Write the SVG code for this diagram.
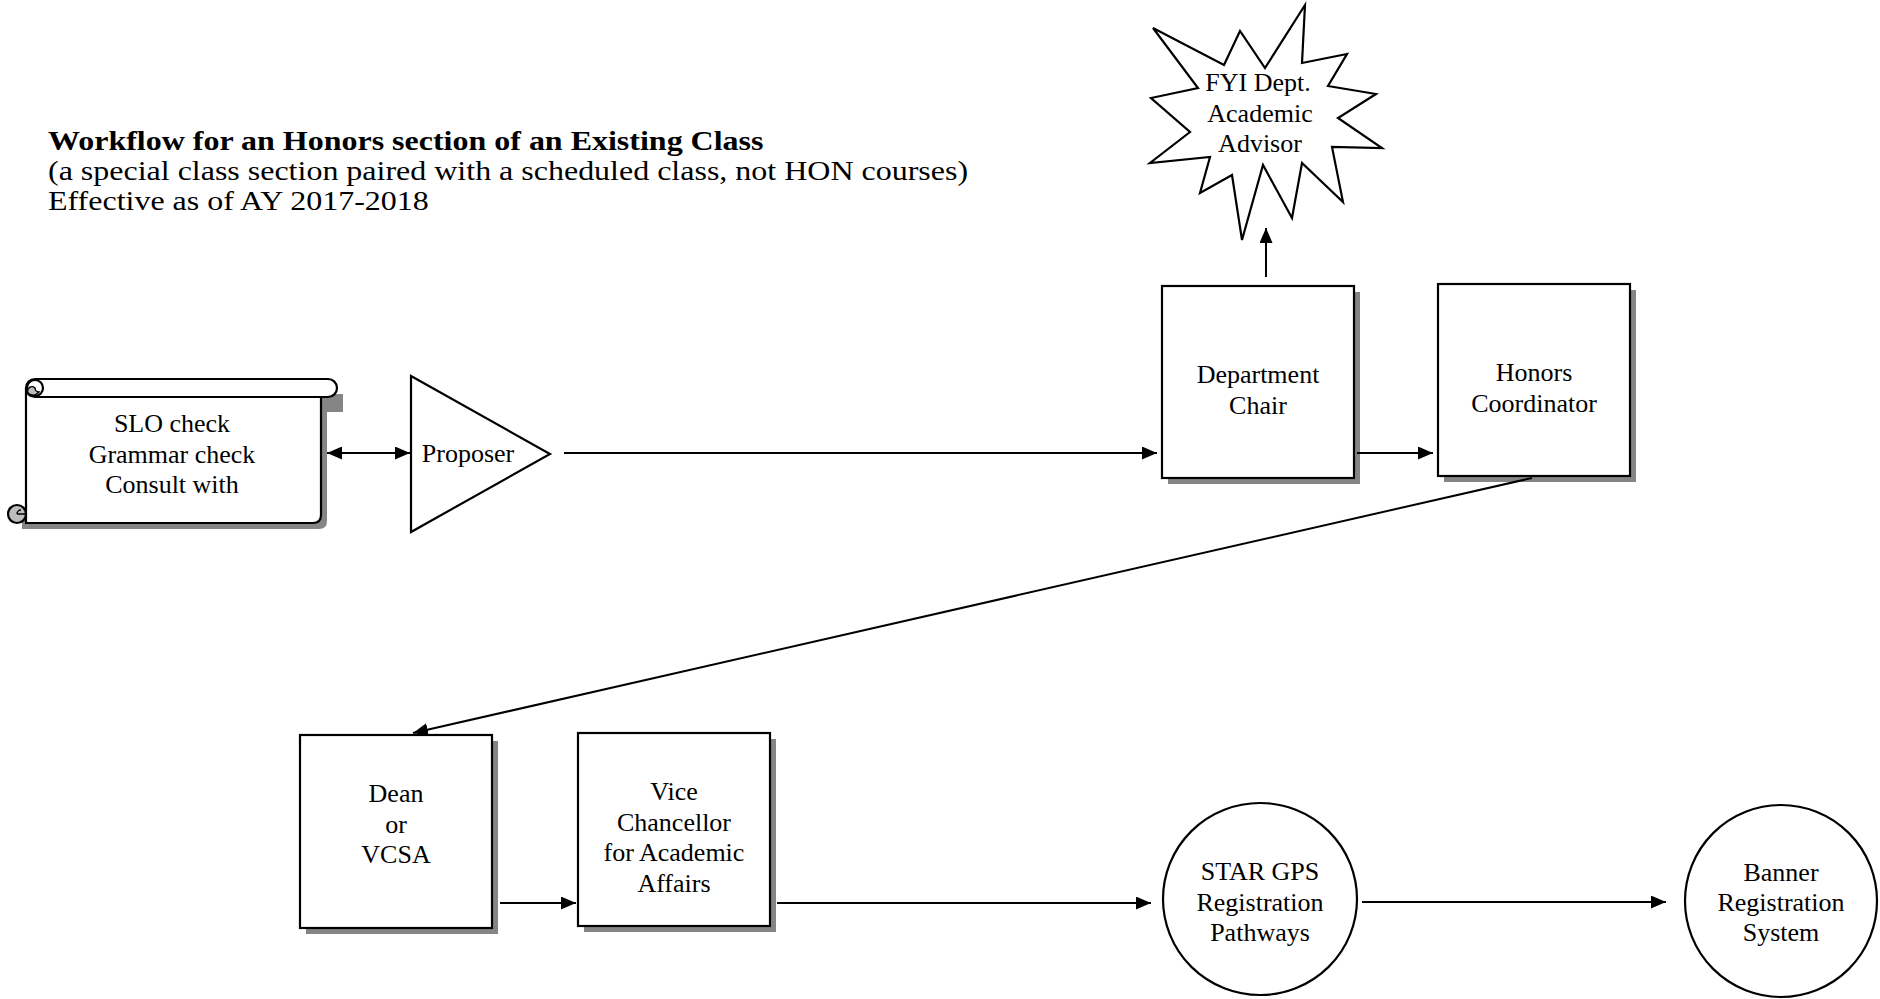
<svg xmlns="http://www.w3.org/2000/svg" width="1880" height="999" viewBox="0 0 1880 999">
  <style>
    .lbl { font-family: "Liberation Serif", "Times New Roman", serif; font-size: 26px; fill: #000; text-anchor: middle; }
    .hdr { font-family: "Liberation Serif", "Times New Roman", serif; font-size: 28px; fill: #000; }
    .shape { fill: #fff; stroke: #000; stroke-width: 2.2; }
    .shadow { fill: #858585; stroke: none; }
    .conn { fill: none; stroke: #000; stroke-width: 2; }
  </style>
  <defs>
    <marker id="head" viewBox="0 0 15 13" markerWidth="15" markerHeight="13" refX="15" refY="6.5" orient="auto-start-reverse" markerUnits="userSpaceOnUse">
      <path d="M0,0 L15,6.5 L0,13 z" fill="#000"/>
    </marker>
  </defs>

  <rect width="1880" height="999" fill="#fff"/>

  <!-- title block, set in a slightly widened face -->
  <g id="title" transform="translate(48,0) scale(1.143,1)">
    <text class="hdr" x="0" y="150" font-weight="bold">Workflow for an Honors section of an Existing Class</text>
    <text class="hdr" x="0" y="180">(a special class section paired with a scheduled class, not HON courses)</text>
    <text class="hdr" x="0" y="210">Effective as of AY 2017-2018</text>
  </g>

  <!-- checklist scroll -->
  <g id="checklist">
    <path class="shadow" d="M32,394 H343 V412 H327 V521 Q327,529 319,529 H22 V514 H32 Z"/>
    <path class="shape" d="M26,388 V523 H313 Q321,523 321,515 V397"/>
    <rect class="shape" x="26" y="379" width="311" height="18" rx="9"/>
    <circle class="shape" cx="35" cy="388" r="8"/>
    <path d="M35,388 A4,4 0 0 0 39,392 A8,8 0 0 1 29,394 A4,4 0 0 1 35,388 Z" fill="#bdbdbd" stroke="#000" stroke-width="1.5"/>
    <circle cx="17" cy="514" r="9" fill="#bdbdbd" stroke="#000" stroke-width="2.2"/>
    <path d="M17,514 H26 M17,514 A4,4 0 0 1 21,510" fill="none" stroke="#000" stroke-width="1.5"/>
    <text class="lbl" x="172" y="432">SLO check</text>
    <text class="lbl" x="172" y="463">Grammar check</text>
    <text class="lbl" x="172" y="493">Consult with</text>
  </g>

  <!-- proposer -->
  <g id="proposer">
    <polygon class="shape" points="411,376 550,454 411,532"/>
    <text class="lbl" x="468" y="462">Proposer</text>
  </g>

  <!-- department chair -->
  <g id="dept-chair">
    <rect class="shadow" x="1168" y="292" width="192" height="192"/>
    <rect class="shape" x="1162" y="286" width="192" height="192"/>
    <text class="lbl" x="1258" y="383">Department</text>
    <text class="lbl" x="1258" y="414">Chair</text>
  </g>

  <!-- FYI advisor -->
  <g id="fyi-advisor">
    <polygon class="shape" points="1305,5 1302,63 1347,54 1328,86 1376,94 1338,118 1382,148 1332,147 1343,202 1302,163 1292,218 1263,165 1242,240 1232,175 1200,193 1210,157 1150,163 1190,132 1151,98 1198,88 1153,28 1224,65 1240,31 1265,68"/>
    <text class="lbl" x="1258" y="91">FYI Dept.</text>
    <text class="lbl" x="1260" y="122">Academic</text>
    <text class="lbl" x="1260" y="152">Advisor</text>
  </g>

  <!-- honors coordinator -->
  <g id="honors-coordinator">
    <rect class="shadow" x="1444" y="290" width="192" height="192"/>
    <rect class="shape" x="1438" y="284" width="192" height="192"/>
    <text class="lbl" x="1534" y="381">Honors</text>
    <text class="lbl" x="1534" y="412">Coordinator</text>
  </g>

  <!-- dean -->
  <g id="dean">
    <rect class="shadow" x="306" y="741" width="192" height="193"/>
    <rect class="shape" x="300" y="735" width="192" height="193"/>
    <text class="lbl" x="396" y="802">Dean</text>
    <text class="lbl" x="396" y="833">or</text>
    <text class="lbl" x="396" y="863">VCSA</text>
  </g>

  <!-- vice chancellor -->
  <g id="vice-chancellor">
    <rect class="shadow" x="584" y="739" width="192" height="193"/>
    <rect class="shape" x="578" y="733" width="192" height="193"/>
    <text class="lbl" x="674" y="800">Vice</text>
    <text class="lbl" x="674" y="831">Chancellor</text>
    <text class="lbl" x="674" y="861">for Academic</text>
    <text class="lbl" x="674" y="892">Affairs</text>
  </g>

  <!-- STAR GPS -->
  <g id="star-gps">
    <ellipse class="shape" cx="1260" cy="899" rx="97" ry="96"/>
    <text class="lbl" x="1260" y="880">STAR GPS</text>
    <text class="lbl" x="1260" y="911">Registration</text>
    <text class="lbl" x="1260" y="941">Pathways</text>
  </g>

  <!-- Banner -->
  <g id="banner">
    <ellipse class="shape" cx="1781" cy="901" rx="96" ry="96"/>
    <text class="lbl" x="1781" y="881">Banner</text>
    <text class="lbl" x="1781" y="911">Registration</text>
    <text class="lbl" x="1781" y="941">System</text>
  </g>

  <!-- connectors -->
  <g id="connectors">
    <line class="conn" x1="327" y1="453" x2="410" y2="453" marker-start="url(#head)" marker-end="url(#head)"/>
    <line class="conn" x1="564" y1="453" x2="1157" y2="453" marker-end="url(#head)"/>
    <line class="conn" x1="1266" y1="277" x2="1266" y2="228" marker-end="url(#head)"/>
    <line class="conn" x1="1357" y1="453" x2="1433" y2="453" marker-end="url(#head)"/>
    <line class="conn" x1="1532" y1="478" x2="413" y2="733" marker-end="url(#head)"/>
    <line class="conn" x1="500" y1="903" x2="576" y2="903" marker-end="url(#head)"/>
    <line class="conn" x1="777" y1="903" x2="1151" y2="903" marker-end="url(#head)"/>
    <line class="conn" x1="1362" y1="902" x2="1666" y2="902" marker-end="url(#head)"/>
  </g>
</svg>
